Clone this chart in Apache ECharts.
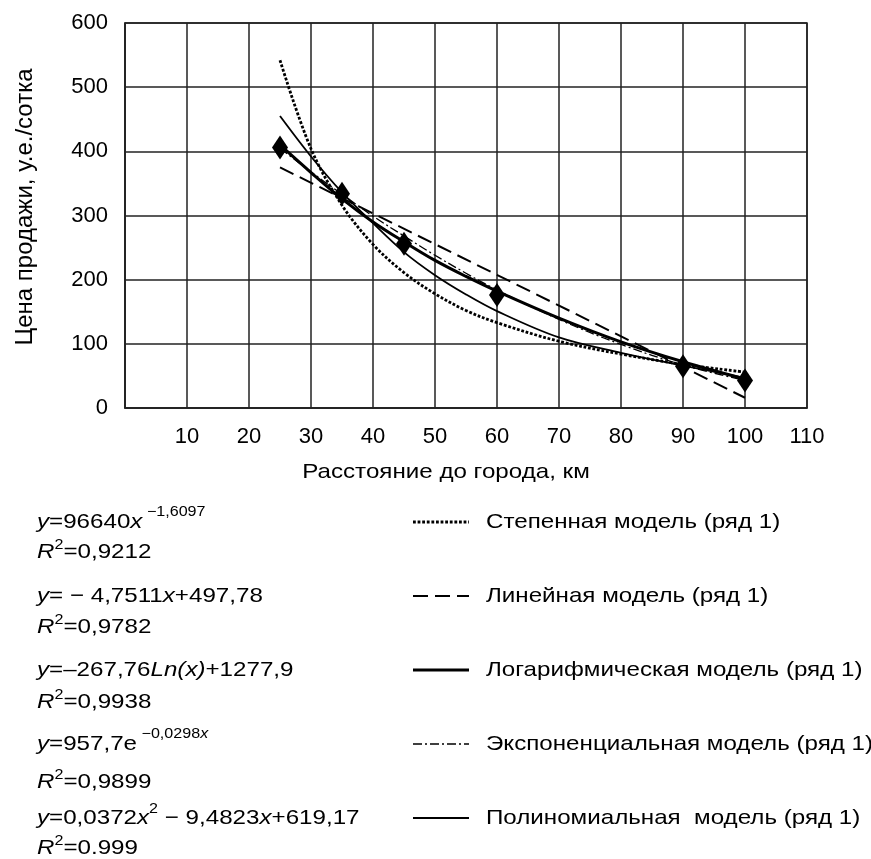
<!DOCTYPE html>
<html>
<head>
<meta charset="utf-8">
<script src="https://cdn.jsdelivr.net/npm/echarts@6/dist/echarts.min.js"></script>
<style>
html,body{margin:0;padding:0;background:#fff;}
#c{width:871px;height:859px;}
</style>
</head>
<body>
<div id="c"></div>
<script>
// Observed data points (distance km, price)
const pointX = [25, 35, 45, 60, 90, 100];
const pointY = [406, 334, 256, 176, 65, 43];

// Trend curves at these distances
const curveX = [25, 30, 35, 40, 45, 50, 55, 60, 70, 80, 90, 100];
const powerY = [542, 404, 316, 255, 211, 178, 152, 133, 104, 84, 68, 56];
const logY = [410, 367, 326, 290, 259, 230, 205, 182, 140, 103, 72, 45];
const expY = [405, 368, 333, 299, 268, 238, 210, 184, 138, 99, 67, 43];
const polyY = [455, 392, 336, 288, 243, 207, 177, 151, 110, 86, 66, 47];
const linearX = [25, 100];
const linearY = [375, 16];

// Axis ticks
const xMin = 0, xMax = 110, xStep = 10;
const yMin = 0, yMax = 600, yStep = 100;

const xAxisTitle = 'Расстояние до города, км';
const yAxisTitle = 'Цена продажи, у.е./сотка';
const legendNames = [
  'Степенная модель (ряд 1)',
  'Линейная модель (ряд 1)',
  'Логарифмическая модель (ряд 1)',
  'Экспоненциальная модель (ряд 1)',
  'Полиномиальная  модель (ряд 1)'
];
// Equation block: [text, style, superscript offset]
const equations = [
  [['y', 'i'], ['=96640', 'n'], ['x', 'i'], [' \u22121,6097', 's', -10]],
  [['R', 'i'], ['2', 's', -7], ['=0,9212', 'n']],
  [['y', 'i'], ['= \u2212 4,7511', 'n'], ['x', 'i'], ['+497,78', 'n']],
  [['R', 'i'], ['2', 's', -7], ['=0,9782', 'n']],
  [['y', 'i'], ['=\u2013267,76', 'n'], ['Ln(x)', 'i'], ['+1277,9', 'n']],
  [['R', 'i'], ['2', 's', -7], ['=0,9938', 'n']],
  [['y', 'i'], ['=957,7e', 'n'], [' \u22120,0298', 's', -10], ['x', 'si', -10]],
  [['R', 'i'], ['2', 's', -7], ['=0,9899', 'n']],
  [['y', 'i'], ['=0,0372', 'n'], ['x', 'i'], ['2', 's', -9], [' \u2212 9,4823', 'n'], ['x', 'i'], ['+619,17', 'n']],
  [['R', 'i'], ['2', 's', -7], ['=0.999', 'n']]
];

const FONT = '"Liberation Sans", Arial, sans-serif';
const SX = 1.15; // horizontal stretch of the text in the picture
const zip = (xs, ys) => xs.map((x, i) => [x, ys[i]]);

const chart = echarts.init(document.getElementById('c'));

const lineStyles = [
  {width: 2.8, type: [2.8, 1.8], color: '#000'},
  {width: 2, type: [15, 7], color: '#000'},
  {width: 3, type: 'solid', color: '#000'},
  {width: 1.3, type: [9, 3, 2, 3], color: '#000'},
  {width: 1.8, type: 'solid', color: '#000'}
];
const curveData = [zip(curveX, powerY), zip(linearX, linearY), zip(curveX, logY), zip(curveX, expY), zip(curveX, polyY)];

const series = curveData.map((d, i) => ({
  name: legendNames[i],
  type: 'line',
  data: d,
  smooth: i === 1 ? false : 0.35,
  showSymbol: false,
  silent: true,
  lineStyle: lineStyles[i],
  z: 3
}));
series.push({
  name: 'ряд 1',
  type: 'scatter',
  data: zip(pointX, pointY),
  symbol: 'diamond',
  symbolSize: [16, 24],
  itemStyle: {color: '#000', opacity: 1},
  emphasis: {disabled: true},
  z: 5
});

const ctx = document.createElement('canvas').getContext('2d');
const graphics = [];

function run(x0, yc, pieces) {
  let x = x0;
  pieces.forEach(p => {
    const [t, k, off] = p;
    const sup = k[0] === 's';
    const italic = k === 'i' || k === 'si';
    const font = (italic ? 'italic ' : '') + (sup ? 14 : 21) + 'px ' + FONT;
    ctx.font = font;
    const w = ctx.measureText(t).width * SX;
    graphics.push({
      type: 'text', x: x, y: yc + (sup ? off : 0), scaleX: SX, silent: true,
      style: {text: t, font: font, fill: '#000', align: 'left', verticalAlign: 'middle'}
    });
    x += w;
  });
}

const eqY = [522, 552, 596, 627, 670, 702, 744, 782, 818, 848];
equations.forEach((pieces, i) => run(37, eqY[i], pieces));

const legendY = [522, 596, 670, 744, 818];
legendY.forEach((y, i) => {
  const ls = lineStyles[i];
  graphics.push({
    type: 'line', silent: true,
    shape: {x1: 413, y1: y, x2: 469, y2: y},
    style: {stroke: '#000', lineWidth: ls.width, lineDash: Array.isArray(ls.type) ? ls.type : null}
  });
  run(486, y, [[legendNames[i], 'n']]);
});

// Axis titles
graphics.push({
  type: 'text', x: 446, y: 472, scaleX: SX, silent: true,
  style: {text: xAxisTitle, font: '21px ' + FONT, fill: '#000', align: 'center', verticalAlign: 'middle'}
});
graphics.push({
  type: 'text', x: 25, y: 207, rotation: Math.PI / 2, silent: true,
  style: {text: yAxisTitle, font: '24px ' + FONT, fill: '#000', align: 'center', verticalAlign: 'middle'}
});

chart.setOption({
  animation: false,
  backgroundColor: '#fff',
  grid: {left: 125, top: 23, right: 64, bottom: 451, show: true, borderColor: '#222', borderWidth: 1.5, containLabel: false},
  xAxis: {
    type: 'value', min: xMin, max: xMax, interval: xStep,
    axisLine: {show: true, lineStyle: {color: '#222', width: 1.5}},
    axisTick: {show: false},
    axisLabel: {fontFamily: FONT, fontSize: 22, color: '#000', margin: 18, showMinLabel: false,
      formatter: v => v === 0 ? '' : String(v)},
    splitLine: {show: true, lineStyle: {color: '#222', width: 1.5}}
  },
  yAxis: {
    type: 'value', min: yMin, max: yMax, interval: yStep,
    axisLine: {show: true, lineStyle: {color: '#222', width: 1.5}},
    axisTick: {show: false},
    axisLabel: {fontFamily: FONT, fontSize: 22, color: '#000', margin: 17},
    splitLine: {show: true, lineStyle: {color: '#222', width: 1.5}}
  },
  series: series,
  graphic: graphics
});
</script>
</body>
</html>
